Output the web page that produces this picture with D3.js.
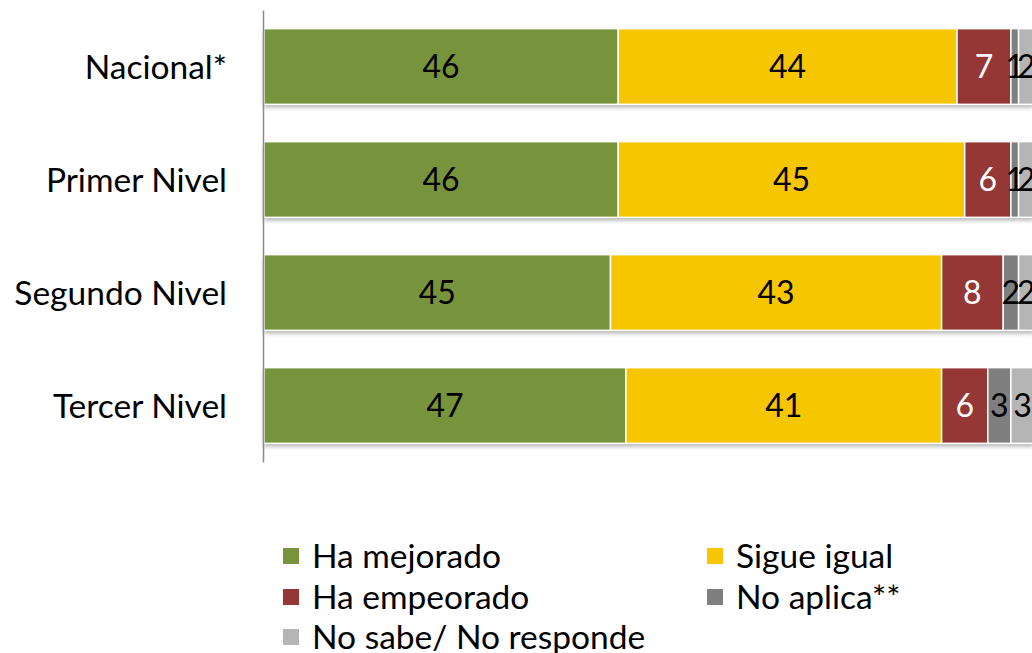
<!DOCTYPE html>
<html><head><meta charset="utf-8">
<script src="https://cdn.jsdelivr.net/npm/d3@7"></script>
<style>body{margin:0;background:#fff;overflow:hidden}svg{display:block}</style>
</head><body>
<svg id="c" width="1032" height="653"></svg>
<script>
const categories = ["Nacional*", "Primer Nivel", "Segundo Nivel", "Tercer Nivel"];
const seriesNames = ["Ha mejorado", "Sigue igual", "Ha empeorado", "No aplica**", "No sabe/ No responde"];
const haMejorado = [46, 46, 45, 47];
const sigueIgual = [44, 45, 43, 41];
const haEmpeorado = [7, 6, 8, 6];
const noAplica = [1, 1, 2, 3];
const noSabe = [2, 2, 2, 3];
const colors = ["#77933C", "#F6C600", "#953735", "#7F7F7F", "#B5B5B5"];
const labelColors = ["#000", "#000", "#fff", "#000", "#000"];

const font = "Lato, 'Open Sans', sans-serif";
const svg = d3.select("#c");
const defs = svg.append("defs");
const f = defs.append("filter").attr("id","sh").attr("x","-5%").attr("y","-10%").attr("width","110%").attr("height","130%");
f.append("feDropShadow").attr("dx",0).attr("dy",3).attr("stdDeviation",2).attr("flood-color","#000").attr("flood-opacity",0.3);

const values = [haMejorado, sigueIgual, haEmpeorado, noAplica, noSabe];
const rows = categories.map((c,i)=>{const o={cat:c}; seriesNames.forEach((s,j)=>o[s]=values[j][i]); return o;});
const stack = d3.stack().keys(seriesNames)(rows);

const x = d3.scaleLinear().domain([0,100]).range([264,1034]);
const y = d3.scaleBand().domain(categories).range([10,462]).paddingInner(0.33).paddingOuter(0.165);

svg.append("g").selectAll("rect").data(rows).join("rect")
  .attr("x", x(0)).attr("width", x(100)-x(0))
  .attr("y", d=>y(d.cat)).attr("height", y.bandwidth())
  .attr("fill","#fff").attr("filter","url(#sh)");

const g = svg.append("g");
stack.forEach((layer,j)=>{
  g.append("g").selectAll("rect").data(layer).join("rect")
    .attr("x", d=>x(d[0])).attr("width", d=>x(d[1])-x(d[0]))
    .attr("y", d=>y(d.data.cat)).attr("height", y.bandwidth())
    .attr("fill", colors[j]).attr("stroke","#fff").attr("stroke-width",1.5);
});
stack.forEach((layer,j)=>{
  g.append("g").selectAll("text").data(layer).join("text")
    .attr("x", d=>(x(d[0])+x(d[1]))/2)
    .attr("y", d=>y(d.data.cat)+y.bandwidth()/2)
    .attr("dy","0.36em")
    .attr("text-anchor","middle")
    .attr("font-family",font).attr("font-size",32)
    .attr("fill", labelColors[j])
    .text(d=>d[1]-d[0]);
});

const ax = svg.append("g").attr("transform",`translate(${x(0)-1},0)`)
  .call(d3.axisLeft(y).tickSize(0).tickPadding(36));
ax.select(".domain").attr("stroke","#8c8c8c").attr("stroke-width",1.5);
ax.selectAll("text").attr("font-family",font).attr("font-size",33.5).attr("fill","#000").attr("dy","0.36em");

const legendItems = [
  {name:seriesNames[0], c:colors[0], col:0, row:0},
  {name:seriesNames[1], c:colors[1], col:1, row:0},
  {name:seriesNames[2], c:colors[2], col:0, row:1},
  {name:seriesNames[3], c:colors[3], col:1, row:1},
  {name:seriesNames[4], c:colors[4], col:0, row:2}
];
const colX = [283, 707];
const rowY = [556, 597, 637];
const lg = svg.append("g");
const li = lg.selectAll("g").data(legendItems).join("g")
  .attr("transform", d=>`translate(${colX[d.col]},${rowY[d.row]})`);
li.append("rect").attr("x",0).attr("y",-8).attr("width",16).attr("height",16).attr("fill",d=>d.c);
li.append("text").attr("x",29).attr("y",0).attr("dy","0.36em")
  .attr("font-family",font).attr("font-size",33.5).attr("fill","#000").text(d=>d.name);
</script>
</body></html>
